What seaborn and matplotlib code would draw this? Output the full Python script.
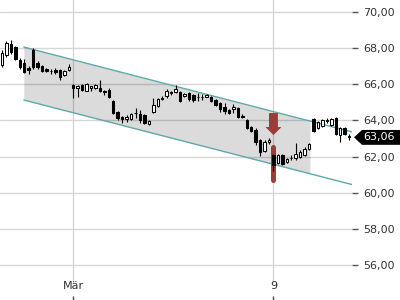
import numpy as np
import pandas as pd
import matplotlib
matplotlib.use("Agg")
import matplotlib.pyplot as plt
import matplotlib.transforms as mtransforms
from matplotlib.patches import Polygon, FancyArrow
import seaborn as sns

# ---------------- data ----------------
opens = [67.05, 67.60, 68.21, 68.04, 67.33, 67.16, 66.86, 67.88, 67.16, 66.99,
         66.83, 66.74, 66.75, 66.78, 66.50, 66.78, 65.95, 65.78, 65.95, 65.62,
         65.81, 65.78, 65.78, 65.59, 65.67, 65.07, 64.46, 64.16, 64.07, 64.07,
         64.38, 64.35, 64.29, 63.80, 64.46, 64.79, 65.18, 65.34, 65.48, 65.56,
         65.56, 65.34, 65.51, 65.40, 65.26, 65.29, 65.31, 65.29, 65.12, 64.96,
         64.74, 64.57, 64.65, 64.68, 64.24, 64.02, 63.63, 63.47, 62.92, 62.31,
         62.83, 62.09, 61.65, 62.09, 61.70, 61.90, 61.92, 61.98, 62.09, 62.42,
         64.07, 63.58, 63.69, 63.96, 63.74, 64.13, 63.19, 63.58, 63.14]
highs = [67.88, 68.37, 68.43, 68.10, 67.44, 67.38, 66.99, 67.99, 67.27, 67.05,
         66.88, 66.83, 66.88, 66.83, 66.78, 67.11, 66.00, 65.95, 66.00, 66.06,
         65.89, 66.00, 66.22, 65.67, 65.78, 65.12, 64.51, 64.24, 64.29, 64.40,
         64.68, 64.57, 64.35, 64.02, 65.23, 65.23, 65.34, 65.73, 65.62, 65.95,
         65.62, 65.51, 65.56, 65.45, 65.51, 65.45, 65.45, 65.34, 65.18, 65.01,
         64.96, 64.62, 64.90, 64.74, 64.35, 64.07, 63.69, 63.58, 62.97, 62.92,
         63.03, 62.14, 62.14, 62.14, 61.92, 62.09, 62.75, 62.37, 62.53, 62.75,
         64.13, 63.96, 64.07, 64.13, 64.13, 64.18, 63.63, 63.63, 63.25]
lows = [66.94, 67.49, 67.66, 67.33, 66.83, 66.61, 66.55, 66.83, 66.83, 66.66,
        66.66, 66.55, 66.55, 66.22, 66.44, 66.72, 65.23, 65.29, 65.62, 65.60,
        65.62, 65.73, 65.56, 65.40, 65.23, 64.35, 64.02, 63.85, 63.91, 64.02,
        64.13, 63.85, 63.80, 63.74, 64.40, 64.74, 65.12, 65.23, 65.40, 65.51,
        65.01, 65.29, 65.07, 65.01, 65.07, 65.12, 65.29, 65.01, 64.79, 64.46,
        64.35, 64.35, 64.40, 64.13, 64.13, 63.52, 63.36, 62.64, 62.03, 62.26,
        62.70, 61.21, 61.59, 61.54, 61.65, 61.81, 61.81, 61.92, 62.03, 62.37,
        63.36, 63.52, 63.63, 63.85, 63.69, 63.19, 62.81, 63.19, 62.92]
closes = [67.71, 68.26, 67.77, 67.38, 66.94, 66.66, 66.80, 66.94, 66.94, 66.72,
          66.72, 66.70, 66.69, 66.39, 66.72, 66.94, 65.78, 65.89, 65.67, 66.00,
          65.87, 65.95, 65.62, 65.54, 65.29, 64.40, 64.13, 64.10, 64.18, 64.35,
          64.43, 64.02, 63.85, 63.96, 64.85, 65.18, 65.23, 65.62, 65.54, 65.73,
          65.07, 65.45, 65.18, 65.12, 65.31, 65.26, 65.37, 65.07, 64.85, 64.62,
          64.52, 64.40, 64.71, 64.18, 64.21, 63.58, 63.41, 62.81, 62.26, 62.81,
          62.89, 61.54, 62.09, 61.59, 61.87, 61.95, 62.14, 62.25, 62.42, 62.70,
          63.41, 63.91, 64.02, 64.02, 64.07, 63.25, 63.58, 63.25, 63.06]

x_tick_positions = [16, 61]
x_tick_labels = ["Mär", "9"]
y_ticks = [56, 58, 60, 62, 64, 66, 68, 70]

channel_x = [4.9, 78.65]
channel_upper = [68.04, 63.36]
channel_lower = [65.12, 60.46]
shade_end = 69.2

signal_index = 61
last_price = 63.06

# ---------------- styling ----------------
sns.set_theme(style="white")
plt.rcParams['font.family'] = ['DejaVu Sans']

GRID = '#d6d6d6'
TEAL = '#5fa9ad'
RED = '#993d38'

fig = plt.figure(figsize=(4, 3), dpi=100)
ax = fig.add_axes([0, 0, 352 / 400, 1])

idx = np.arange(len(opens))
df = pd.DataFrame(dict(i=idx, open=opens, high=highs, low=lows, close=closes))
is_up = df["close"] >= df["open"]

# channel shading
xs = np.array([channel_x[0], shade_end])
ax.fill_between(xs, np.interp(xs, channel_x, channel_lower),
                np.interp(xs, channel_x, channel_upper),
                color='black', alpha=0.14, lw=0, zorder=1)

# channel lines (seaborn)
ch = pd.DataFrame({
    'i': channel_x * 2,
    'price': channel_upper + channel_lower,
    'band': ['upper'] * 2 + ['lower'] * 2,
})
sns.lineplot(data=ch, x='i', y='price', units='band', estimator=None,
             color=TEAL, lw=1, ax=ax, legend=False, zorder=2)

# signal marker: red bar + arrow
sh = highs[signal_index]
sl = lows[signal_index]
ax.plot([signal_index, signal_index], [sh + 0.39, sl - 0.5], color=RED,
        lw=3.6, solid_capstyle='round', zorder=2.5)
arrow_top = sh + 2.26
arrow_tip = sh + 1.05
ax.add_patch(FancyArrow(signal_index, arrow_top, 0, -(arrow_top - arrow_tip),
                        width=2.0, head_width=3.6, head_length=0.44,
                        length_includes_head=True, color=RED, lw=0, zorder=6))

# candles
ax.vlines(df["i"], df["low"], df["high"], color='black', lw=0.8, zorder=3)
bottom = np.minimum(df["open"], df["close"])
height = np.maximum(np.abs(df["close"] - df["open"]), 0.02)
ax.bar(df["i"], height, bottom=bottom, width=0.55,
       color=np.where(is_up, 'white', 'black'), edgecolor='black',
       linewidth=0.75, zorder=4)

# axes
ax.set_xlim(-0.449, 78.65)
ax.set_ylim(54.095, 70.634)
for s in ax.spines.values():
    s.set_visible(False)

ax.set_yticks(y_ticks)
ax.set_yticklabels([f"{v:.2f}".replace('.', ',') for v in y_ticks])
ax.yaxis.tick_right()
ax.yaxis.grid(True, color=GRID, lw=1)
ax.xaxis.grid(False)
ax.set_axisbelow(True)
ax.tick_params(axis='y', which='both', right=True, left=False, length=4,
               width=1, color='#555555', labelsize=8, labelcolor='#333333',
               pad=4, direction='out')

ax.set_xticks(x_tick_positions)
ax.set_xticklabels(x_tick_labels)
ax.tick_params(axis='x', bottom=True, direction='in', length=3, width=1,
               color='#444444', labelsize=8, labelcolor='#333333', pad=-14)
for t in x_tick_positions:
    ax.axvline(t, ymin=0.06, ymax=1, color=GRID, lw=1, zorder=0)

ax.set_xlabel('')
ax.set_ylabel('')

# last price tag
blend = mtransforms.blended_transform_factory(fig.transFigure, ax.transData)
h = 0.41
tag = Polygon([(354 / 400, last_price), (362 / 400, last_price + h),
               (1.0, last_price + h), (1.0, last_price - h),
               (362 / 400, last_price - h)], closed=True,
              transform=blend, facecolor='black', edgecolor='none',
              clip_on=False, zorder=10)
ax.add_patch(tag)
ax.text(363.5 / 400, last_price, f"{last_price:.2f}".replace('.', ','),
        transform=blend, color='white', fontsize=8, va='center', ha='left',
        clip_on=False, zorder=11)

fig.savefig('out.png', dpi=100)
